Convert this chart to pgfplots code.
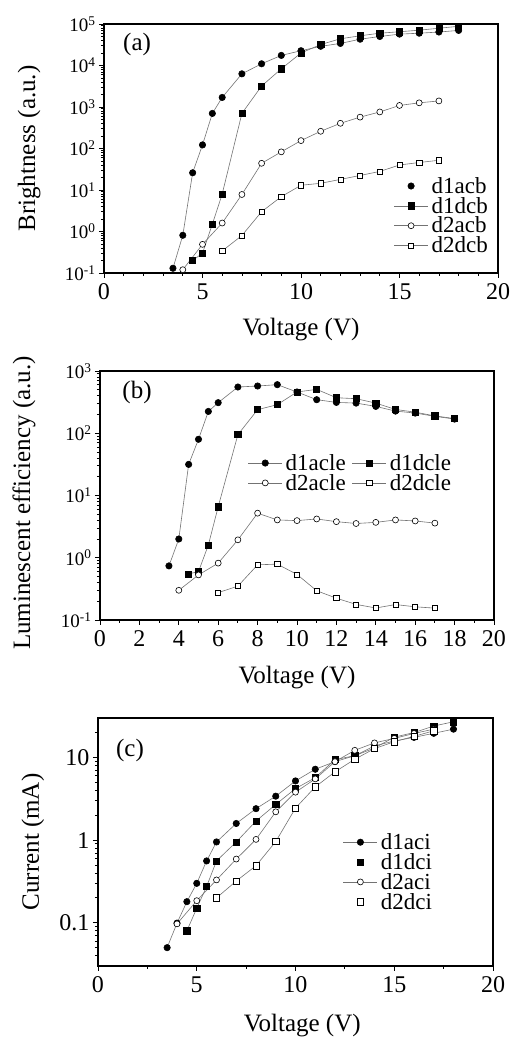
\documentclass[border=0pt]{standalone}
\usepackage{fontspec}
\setmainfont{Liberation Serif}
\usepackage{pgfplots}
\pgfplotsset{compat=1.18}

\newcommand\fs[1]{\fontsize{#1pt}{#1pt}\selectfont}

\pgfplotsset{
  panel/.style={
    scale only axis, anchor=south west,
    xmin=0, xmax=20, clip=false,
    axis line style={line width=1.1pt},
    tick align=outside, tick pos=left,
    major tick length=5pt, minor tick length=3pt,
    every tick/.style={black, line width=0.8pt},
    /pgf/number format/assume math mode=true,
    xticklabel style={font=\fs{24}, yshift=-2pt},
    yticklabel style={font=\fs{19}},
    label style={font=\fs{25}},
    legend cell align=left,
    legend style={draw=none, fill=none, anchor=north west, inner sep=0pt,
      row sep=0pt, font=\fs{23}, nodes={inner sep=1.2pt},
      /tikz/every odd column/.append style={column sep=2pt}},
    legend image code/.code={
      \draw[mark repeat=2,mark phase=2,##1] plot coordinates {(0pt,0pt) (17pt,0pt) (34pt,0pt)};},
  },
  s1/.style={black!55, line width=0.6pt, mark=*, mark size=3.2pt,
    mark options={solid, fill=black, draw=black}},
  s2/.style={black!55, line width=0.6pt, mark=square*, mark size=3.1pt,
    mark options={solid, fill=black, draw=black}},
  s3/.style={black!55, line width=0.6pt, mark=*, mark size=3pt,
    mark options={solid, fill=white, draw=black, line width=0.6pt}},
  s4/.style={black!55, line width=0.6pt, mark=square*, mark size=2.6pt,
    mark options={solid, fill=white, draw=black, line width=0.6pt}},
}

\begin{document}
\begin{tikzpicture}
\path[use as bounding box] (0pt,0pt) rectangle (514pt,1037pt);

% (a) brightness
\begin{axis}[panel, at={(104pt,764pt)}, width=394pt, height=249pt,
  ymode=log, log basis y=10, ymin=0.1, ymax=1e5,
  xtick={0,5,...,20}, minor x tick num=4,
  yticklabel={10\textsuperscript{\pgfmathprintnumber[fixed,precision=0]{\tick}}},
  xlabel={Voltage (V)}, ylabel={Brightness (a.u.)},
  xlabel style={at={(axis description cs:0.5,-0.229)}, anchor=center},
  ylabel style={at={(axis description cs:-0.19,0.5)}, anchor=center},
  legend style={at={(0.735,0.39)}},
]
\addplot[s1, forget plot] coordinates {(3.5,0.13)(4,0.81)(4.5,26)(5,122)(5.5,700)(6,1700)(7,6300)(8,11000)(9,17500)(10,22700)(11,29000)(12,34000)(13,43000)(14,50000)(15,57000)(16,60000)(17,64000)(18,70000)};
\addplot[s2, forget plot] coordinates {(4.5,0.2)(5,0.3)(5.5,1.5)(6,8)(7,700)(8,3200)(9,8300)(10,20000)(11,32000)(12,44000)(13,52000)(14,60000)(15,65000)(16,71000)(17,79000)(18,88000)};
\addplot[s3, forget plot] coordinates {(4,0.12)(5,0.49)(6,1.6)(7,7.8)(8,44)(9,83)(10,155)(11,260)(12,405)(13,570)(14,760)(15,1090)(16,1260)(17,1400)};
\addplot[s4, forget plot] coordinates {(6,0.34)(7,0.8)(8,3.0)(9,6.9)(10,13)(11,14.5)(12,18)(13,22.4)(14,28)(15,40)(16,46)(17,52)};
\addlegendimage{s1, only marks}\addlegendentry{d1acb}
\addlegendimage{s2}\addlegendentry{d1dcb}
\addlegendimage{s3}\addlegendentry{d2acb}
\addlegendimage{s4}\addlegendentry{d2dcb}
\node[font=\fs{25}] at (rel axis cs:0.084,0.916) {(a)};
\end{axis}

% (b) luminescent efficiency
\begin{axis}[panel, at={(100pt,417pt)}, width=394pt, height=249pt,
  ymode=log, log basis y=10, ymin=0.1, ymax=1000,
  xtick={0,2,...,20}, minor x tick num=1,
  yticklabel={10\textsuperscript{\pgfmathprintnumber[fixed,precision=0]{\tick}}},
  xlabel={Voltage (V)}, ylabel={Luminescent efficiency (a.u.)},
  xlabel style={at={(axis description cs:0.5,-0.233)}, anchor=center},
  ylabel style={at={(axis description cs:-0.193,0.47)}, anchor=center},
  legend columns=2,
  legend style={at={(0.375,0.671)}, /tikz/every even column/.append style={column sep=5pt}},
]
\addplot[s1] coordinates {(3.5,0.74)(4,2.0)(4.5,31.6)(5,80)(5.5,224)(6,310)(7,553)(8,574)(9,603)(10,460)(11,346)(12,313)(13,305)(14,270)(15,227)(16,211)(17,187)(18,169)};
\addlegendentry{d1acle}
\addplot[s2] coordinates {(4.5,0.55)(5,0.60)(5.5,1.6)(6,6.6)(7,95)(8,239)(9,288)(10,460)(11,507)(12,372)(13,359)(14,305)(15,241)(16,218)(17,190)(18,172)};
\addlegendentry{d1dcle}
\addplot[s3] coordinates {(4,0.30)(5,0.53)(6,0.82)(7,1.94)(8,5.2)(9,4.05)(10,3.95)(11,4.2)(12,3.8)(13,3.55)(14,3.7)(15,4.05)(16,3.9)(17,3.6)};
\addlegendentry{d2acle}
\addplot[s4] coordinates {(6,0.275)(7,0.35)(8,0.77)(9,0.79)(10,0.54)(11,0.295)(12,0.224)(13,0.178)(14,0.156)(15,0.177)(16,0.163)(17,0.155)};
\addlegendentry{d2dcle}
\node[font=\fs{25}] at (rel axis cs:0.094,0.912) {(b)};
\end{axis}

% (c) current
\begin{axis}[panel, at={(98pt,71pt)}, width=395pt, height=248pt,
  ymode=log, ymin=0.03, ymax=30,
  xtick={0,5,...,20}, minor x tick num=1,
  ytick={0.1,1,10}, yticklabels={0.1,1,10},
  minor ytick={0.04,0.05,0.06,0.07,0.08,0.09,0.2,0.3,0.4,0.5,0.6,0.7,0.8,0.9,2,3,4,5,6,7,8,9,20},
  yticklabel style={font=\fs{24}},
  xlabel={Voltage (V)}, ylabel={Current (mA)},
  xlabel style={at={(axis description cs:0.517,-0.238)}, anchor=center},
  ylabel style={at={(axis description cs:-0.165,0.5)}, anchor=center},
  legend style={at={(0.62,0.54)}},
]
\addplot[s1, forget plot] coordinates {(3.5,0.05)(4,0.099)(4.5,0.18)(5,0.30)(5.5,0.56)(6,0.95)(7,1.59)(8,2.4)(9,3.4)(10,5.2)(11,7.2)(12,8.9)(13,10.5)(14,13.8)(15,15.8)(16,17.5)(17,19.6)(18,22)};
\addplot[s2, forget plot] coordinates {(4.5,0.08)(5,0.15)(5.5,0.275)(6,0.56)(7,0.95)(8,1.7)(9,2.7)(10,4.2)(11,5.7)(12,9.4)(13,10.5)(14,13)(15,17.6)(16,20)(17,24)(18,27)};
\addplot[s3, forget plot] coordinates {(4,0.097)(5,0.185)(6,0.33)(7,0.59)(8,1.02)(9,2.2)(10,3.8)(11,5.5)(12,8.9)(13,12.2)(14,15)(15,17)(16,19.5)(17,22)};
\addplot[s4, mark size=3.2pt, forget plot] coordinates {(6,0.20)(7,0.32)(8,0.49)(9,0.96)(10,2.44)(11,4.4)(12,6.7)(13,9.5)(14,12.8)(15,15.5)(16,18)(17,21)};
\addlegendimage{s1}\addlegendentry{d1aci}
\addlegendimage{s2, only marks}\addlegendentry{d1dci}
\addlegendimage{s3}\addlegendentry{d2aci}
\addlegendimage{s4, mark size=3.2pt, only marks}\addlegendentry{d2dci}
\node[font=\fs{25}] at (rel axis cs:0.081,0.871) {(c)};
\end{axis}
\end{tikzpicture}
\end{document}
